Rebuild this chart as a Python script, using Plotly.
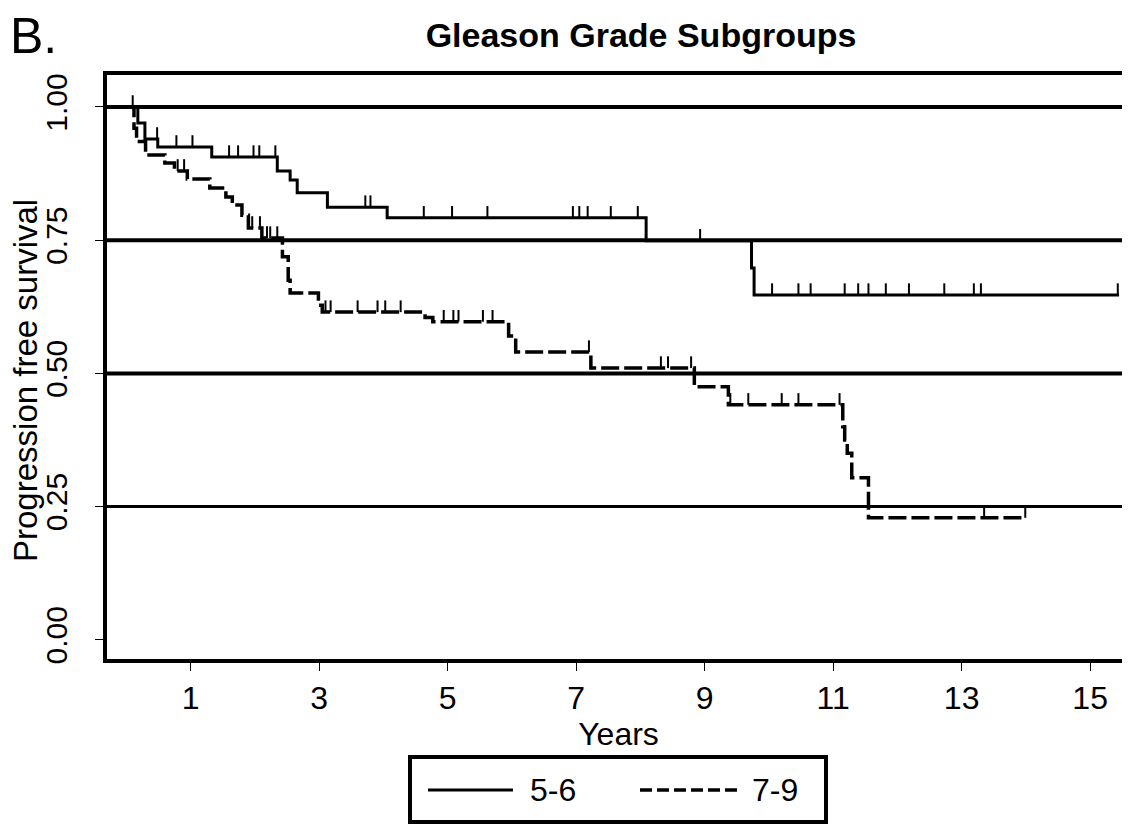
import plotly.graph_objects as go

# ---- data ----
t56 = [0, 0.18, 0.29, 0.49, 1.33, 2.35, 2.55, 2.66, 3.13, 4.06, 8.09, 9.73, 9.77, 15.45]
s56 = [1.0, 0.97, 0.94, 0.925, 0.906, 0.88, 0.863, 0.839, 0.812, 0.792, 0.749, 0.698, 0.647, 0.647]

t79 = [0, 0.12, 0.16, 0.30, 0.60, 0.75, 0.95, 1.30, 1.55, 1.65, 1.80, 1.90, 2.11, 2.43, 2.52,
       2.55, 2.99, 3.05, 4.65, 4.77, 5.95, 6.06, 7.23, 8.84, 9.37, 11.15, 11.18, 11.22, 11.29,
       11.55, 13.99]
s79 = [1.0, 0.96, 0.935, 0.91, 0.895, 0.88, 0.865, 0.848, 0.831, 0.816, 0.797, 0.773, 0.754,
       0.719, 0.675, 0.651, 0.628, 0.615, 0.605, 0.597, 0.57, 0.54, 0.51, 0.475, 0.441, 0.40,
       0.375, 0.35, 0.304, 0.229, 0.229]

cens56 = [0.10, 0.48, 0.78, 1.03, 1.60, 1.74, 1.98, 2.07, 2.32, 3.72, 3.80, 4.63, 5.07, 5.62,
          6.95, 7.05, 7.18, 7.54, 7.96, 8.93, 10.05, 10.46, 10.65, 11.18, 11.39, 11.55, 11.82,
          12.18, 12.73, 13.19, 13.30, 15.43]
cens79 = [0.80, 0.90, 1.96, 2.08, 2.19, 2.24, 2.35, 3.10, 3.18, 3.60, 3.91, 4.03, 4.27, 4.94,
          5.09, 5.17, 5.55, 5.70, 7.20, 8.32, 8.43, 8.79, 9.40, 9.68, 10.20, 10.46, 11.10,
          13.35, 13.99]

group_names = ["5-6", "7-9"]
x_ticks = [1, 3, 5, 7, 9, 11, 13, 15]
y_ticks = [0.0, 0.25, 0.5, 0.75, 1.0]
y_ticklabels = ["0.00", "0.25", "0.50", "0.75", "1.00"]
ref_lines = [0.25, 0.5, 0.75, 1.0]

FONT = "Liberation Sans, Arial, sans-serif"
TICK_H = 0.022  # censor tick height in survival units

# layout geometry (figure pixels)
W, H = 1130, 824
ML, MR, MT, MB = 99, 8, 67, 173
PW, PH = W - ML - MR, H - MT - MB


def px_x(X):
    return (X - ML) / PW


def px_y(Y):
    return (H - MB - Y) / PH


def step_value(times, surv, t):
    v = surv[0]
    for ti, si in zip(times, surv):
        if ti <= t:
            v = si
    return v


def censor_segments(times, surv, cens):
    xs, ys = [], []
    for c in cens:
        v = step_value(times, surv, c)
        xs += [c, c, None]
        ys += [v, v + TICK_H, None]
    return xs, ys


fig = go.Figure()

styles = [dict(dash="solid", width=3), dict(dash="18px,5px", width=3.5)]
for name, tt, ss, cc, st in [(group_names[0], t56, s56, cens56, styles[0]),
                             (group_names[1], t79, s79, cens79, styles[1])]:
    fig.add_trace(go.Scatter(
        x=tt, y=ss, mode="lines", name=name, legendgroup=name, showlegend=False,
        line=dict(color="black", shape="hv", width=st["width"], dash=st["dash"]),
    ))
    cx, cy = censor_segments(tt, ss, cc)
    fig.add_trace(go.Scatter(
        x=cx, y=cy, mode="lines", legendgroup=name, showlegend=False,
        line=dict(color="black", width=2), hoverinfo="skip",
    ))

for v in ref_lines:
    fig.add_shape(type="line", xref="paper", x0=0, x1=1, yref="y", y0=v, y1=v,
                  line=dict(color="black", width=4 if v != 0.25 else 3), layer="below")

# legend box (drawn)
fig.add_shape(type="rect", xref="paper", yref="paper",
              x0=px_x(402), x1=px_x(818), y0=px_y(814), y1=px_y(749),
              line=dict(color="black", width=4), fillcolor="white")
leg_y = px_y(782)
fig.add_shape(type="line", xref="paper", yref="paper", x0=px_x(420), x1=px_x(505),
              y0=leg_y, y1=leg_y, line=dict(color="black", width=3, dash="solid"))
fig.add_shape(type="line", xref="paper", yref="paper", x0=px_x(632), x1=px_x(733),
              y0=leg_y, y1=leg_y, line=dict(color="black", width=3.5, dash="12px,5px"))
fig.add_annotation(text=group_names[0], xref="paper", yref="paper", x=px_x(520), y=leg_y,
                   xanchor="left", yanchor="middle", showarrow=False, font=dict(size=32))
fig.add_annotation(text=group_names[1], xref="paper", yref="paper", x=px_x(742), y=leg_y,
                   xanchor="left", yanchor="middle", showarrow=False, font=dict(size=32))

fig.update_layout(
    width=W, height=H,
    margin=dict(l=ML, r=MR, t=MT, b=MB),
    paper_bgcolor="white", plot_bgcolor="white",
    font=dict(family=FONT, color="black", size=30),
    title=dict(text="<b>Gleason Grade Subgroups</b>", x=633 / W, xanchor="center",
               y=1 - 27 / H, yanchor="middle", font=dict(size=34, family=FONT)),
    showlegend=False,
)

fig.update_xaxes(
    range=[-0.30, 15.62], tickvals=x_ticks, ticks="outside", ticklen=8, tickwidth=1,
    tickcolor="black", showgrid=False, zeroline=False,
    showline=True, linewidth=4, linecolor="black", mirror=True,
    title=dict(text="Years", standoff=2, font=dict(size=32)),
    tickfont=dict(size=32), automargin=False,
)
fig.update_yaxes(
    range=[-0.036, 1.060], tickvals=y_ticks, ticktext=y_ticklabels, tickangle=-90,
    ticks="outside", ticklen=8, tickwidth=1, tickcolor="black", ticklabelstandoff=16,
    showgrid=False, zeroline=False,
    showline=True, linewidth=4, linecolor="black", mirror=True,
    tickfont=dict(size=30), automargin=False,
)

# y-axis title placed explicitly
fig.add_annotation(text="Progression free survival", xref="paper", yref="paper",
                   x=px_x(17), y=px_y(373), textangle=-90, xanchor="center",
                   yanchor="middle", showarrow=False, font=dict(size=33))

fig.add_annotation(text="B.", xref="paper", yref="paper", x=px_x(0), y=px_y(-2),
                   xanchor="left", yanchor="top", showarrow=False,
                   font=dict(size=50, family=FONT))

fig.write_html("out.html")
